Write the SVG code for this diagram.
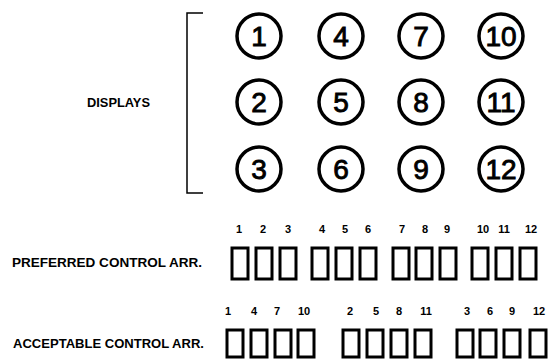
<svg xmlns="http://www.w3.org/2000/svg" width="548" height="362" viewBox="0 0 548 362">
<style>
.c{fill:none;stroke:#000;stroke-width:3.5}
.n{font-family:"Liberation Sans",Arial,sans-serif;font-size:28px;font-weight:normal;text-anchor:middle;stroke:#000;stroke-width:0.9}
.k{fill:none;stroke:#000;stroke-width:3}
.l{font-family:"Liberation Sans",Arial,sans-serif;font-size:11px;font-weight:bold;text-anchor:middle}
.t{font-family:"Liberation Sans",Arial,sans-serif;font-size:13px;font-weight:bold}
.b{fill:none;stroke:#000;stroke-width:1.5}
</style>
<rect width="548" height="362" fill="#fff"/>
<g id="displays-label"><text class="t" x="87" y="107" textLength="63" lengthAdjust="spacingAndGlyphs">DISPLAYS</text></g>
<g id="bracket"><path class="b" d="M203 13H187V193H203"/></g>
<g id="display-1"><circle class="c" cx="259" cy="36" r="22"/><text class="n" x="259" y="46">1</text></g>
<g id="display-2"><circle class="c" cx="259" cy="102" r="22"/><text class="n" x="259" y="112">2</text></g>
<g id="display-3"><circle class="c" cx="259" cy="169" r="22"/><text class="n" x="259" y="179">3</text></g>
<g id="display-4"><circle class="c" cx="341" cy="36" r="22"/><text class="n" x="341" y="46">4</text></g>
<g id="display-5"><circle class="c" cx="341" cy="102" r="22"/><text class="n" x="341" y="112">5</text></g>
<g id="display-6"><circle class="c" cx="341" cy="169" r="22"/><text class="n" x="341" y="179">6</text></g>
<g id="display-7"><circle class="c" cx="421" cy="36" r="22"/><text class="n" x="421" y="46">7</text></g>
<g id="display-8"><circle class="c" cx="421" cy="102" r="22"/><text class="n" x="421" y="112">8</text></g>
<g id="display-9"><circle class="c" cx="421" cy="169" r="22"/><text class="n" x="421" y="179">9</text></g>
<g id="display-10"><circle class="c" cx="501" cy="36" r="22"/><text class="n" x="501" y="46">10</text></g>
<g id="display-11"><circle class="c" cx="501" cy="102" r="22"/><text class="n" x="501" y="112">11</text></g>
<g id="display-12"><circle class="c" cx="501" cy="169" r="22"/><text class="n" x="501" y="179">12</text></g>

<g id="preferred-label"><text class="t" x="12" y="267" textLength="190" lengthAdjust="spacingAndGlyphs">PREFERRED CONTROL ARR.</text></g>
<g id="preferred-controls">
<rect class="k" x="232" y="248" width="16" height="31"/><text class="l" x="239" y="233">1</text>
<rect class="k" x="256" y="248" width="16" height="31"/><text class="l" x="263" y="233">2</text>
<rect class="k" x="280" y="248" width="16" height="31"/><text class="l" x="288" y="233">3</text>
<rect class="k" x="312" y="248" width="16" height="31"/><text class="l" x="322" y="233">4</text>
<rect class="k" x="336" y="248" width="16" height="31"/><text class="l" x="345" y="233">5</text>
<rect class="k" x="360" y="248" width="16" height="31"/><text class="l" x="368" y="233">6</text>
<rect class="k" x="393" y="248" width="16" height="31"/><text class="l" x="402" y="233">7</text>
<rect class="k" x="416" y="248" width="16" height="31"/><text class="l" x="425" y="233">8</text>
<rect class="k" x="440" y="248" width="16" height="31"/><text class="l" x="447" y="233">9</text>
<rect class="k" x="472" y="248" width="16" height="31"/><text class="l" x="483" y="233">10</text>
<rect class="k" x="496" y="248" width="16" height="31"/><text class="l" x="504" y="233">11</text>
<rect class="k" x="520" y="248" width="16" height="31"/><text class="l" x="531" y="233">12</text>
</g>

<g id="acceptable-label"><text class="t" x="13" y="348" textLength="191" lengthAdjust="spacingAndGlyphs">ACCEPTABLE CONTROL ARR.</text></g>
<g id="acceptable-controls">
<rect class="k" x="227" y="330" width="16" height="27"/><text class="l" x="228" y="315">1</text>
<rect class="k" x="251" y="330" width="16" height="27"/><text class="l" x="254" y="315">4</text>
<rect class="k" x="275" y="330" width="16" height="27"/><text class="l" x="277" y="315">7</text>
<rect class="k" x="298" y="330" width="16" height="27"/><text class="l" x="304" y="315">10</text>
<rect class="k" x="343" y="330" width="16" height="27"/><text class="l" x="350" y="315">2</text>
<rect class="k" x="367" y="330" width="16" height="27"/><text class="l" x="376" y="315">5</text>
<rect class="k" x="391" y="330" width="16" height="27"/><text class="l" x="399" y="315">8</text>
<rect class="k" x="415" y="330" width="16" height="27"/><text class="l" x="426" y="315">11</text>
<rect class="k" x="457" y="330" width="16" height="27"/><text class="l" x="467" y="315">3</text>
<rect class="k" x="480" y="330" width="16" height="27"/><text class="l" x="490" y="315">6</text>
<rect class="k" x="504" y="330" width="16" height="27"/><text class="l" x="512" y="315">9</text>
<rect class="k" x="530" y="330" width="16" height="27"/><text class="l" x="539" y="315">12</text>
</g>
</svg>
